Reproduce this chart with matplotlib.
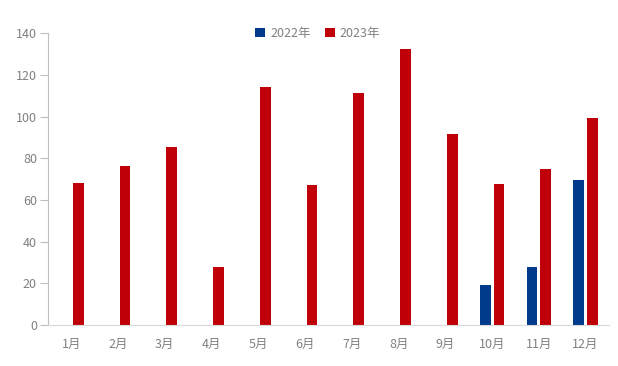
import numpy as np
import matplotlib
matplotlib.use('Agg')
import matplotlib.pyplot as plt

plt.rcParams['font.family'] = ['Noto Sans CJK SC', 'DejaVu Sans']

# Data
months = ['1月', '2月', '3月', '4月', '5月', '6月', '7月', '8月', '9月', '10月', '11月', '12月']
y2022 = [0, 0, 0, 0, 0, 0, 0, 0, 0, 19.2, 27.8, 69.6]
y2023 = [68.2, 76.3, 85.4, 27.8, 114.2, 67.2, 111.4, 132.5, 91.7, 67.7, 74.9, 99.4]
series_names = ['2022年', '2023年']

blue = '#003A8A'
red = '#C00008'
grey = '#808080'

fig = plt.figure(figsize=(6.18, 3.66), dpi=100)
ax = fig.add_axes([48/618, 1 - 325/366, (609-48)/618, (325-33.3)/366])

x = np.arange(len(months))
w = 0.23
ax.bar(x - 0.145, y2022, width=w, color=blue, label=series_names[0])
ax.bar(x + 0.145, y2023, width=w, color=red, label=series_names[1])

ax.set_xlim(-0.5, len(months) - 0.5)
ax.set_ylim(0, 140)
ax.set_yticks(range(0, 141, 20))
ax.set_xticks(x)
ax.set_xticklabels(months)

for s in ['top', 'right']:
    ax.spines[s].set_visible(False)
ax.spines['left'].set_color('#BFBFBF')
ax.spines['bottom'].set_color('#D9D9D9')
ax.tick_params(axis='y', colors=grey, labelsize=9, length=6, width=0.8, color='#BFBFBF', pad=2)
ax.tick_params(axis='x', colors=grey, labelsize=9, length=0, pad=9)

ax.legend(loc='upper center', bbox_to_anchor=(0.481, 1.06), ncol=2, frameon=False,
          fontsize=9, labelcolor=grey, handlelength=0.8, handleheight=0.8,
          handletextpad=0.4, columnspacing=1.1)

fig.savefig('out.png', dpi=100)
